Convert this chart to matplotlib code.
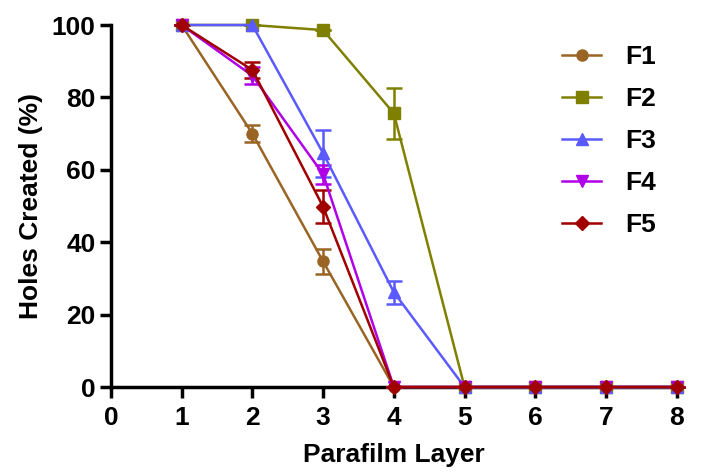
import numpy as np
import matplotlib
matplotlib.use("Agg")
import matplotlib.pyplot as plt
from matplotlib.lines import Line2D

plt.rcParams['font.family'] = ['Liberation Sans', 'DejaVu Sans']
plt.rcParams['font.weight'] = 'bold'

layers = [1, 2, 3, 4, 5, 6, 7, 8]

f1 = [100, 70, 34.7, 0, 0, 0, 0, 0]
f1_err = [0, 2.3, 3.4, 0, 0, 0, 0, 0]
f2 = [100, 100, 98.6, 75.6, 0, 0, 0, 0]
f2_err = [0, 0, 0, 7.0, 0, 0, 0, 0]
f3 = [100, 100, 64.6, 26.2, 0, 0, 0, 0]
f3_err = [0, 0, 6.5, 3.2, 0, 0, 0, 0]
f4 = [100, 86.0, 58.8, 0, 0, 0, 0, 0]
f4_err = [0, 2.4, 2.6, 0, 0, 0, 0, 0]
f5 = [100, 87.6, 49.8, 0, 0, 0, 0, 0]
f5_err = [0, 2.3, 4.5, 0, 0, 0, 0, 0]

series = [
    ("F1", f1, f1_err, "#9a6424", "o", 8),
    ("F2", f2, f2_err, "#808000", "s", 8),
    ("F3", f3, f3_err, "#5a5aff", "^", 9),
    ("F4", f4, f4_err, "#b000e6", "v", 9),
    ("F5", f5, f5_err, "#a00000", "D", 7),
]

fig = plt.figure(figsize=(7.02, 4.72), dpi=100)
ax = fig.add_axes([0.158, 0.180, 0.806, 0.767])

handles = []
for name, vals, err, col, mk, ms in series:
    ax.errorbar(layers, vals, yerr=err, color=col, marker=mk, markersize=ms,
                linewidth=1.8, elinewidth=1.8, capsize=6, capthick=1.8,
                clip_on=False, zorder=3)
    handles.append(Line2D([], [], color=col, marker=mk, markersize=ms,
                          linewidth=1.8, label=name))

ax.set_xlim(0, 8)
ax.set_ylim(0, 100)
ax.set_xticks(range(0, 9))
ax.set_yticks(range(0, 101, 20))

for side in ("top", "right"):
    ax.spines[side].set_visible(False)
for side in ("left", "bottom"):
    ax.spines[side].set_linewidth(2.5)
ax.tick_params(direction="out", length=8, width=2.5, labelsize=19, pad=3)
ax.tick_params(axis="x", pad=6)

ax.set_xlabel("Parafilm Layer", fontsize=19, fontweight="bold", labelpad=9)
ax.set_ylabel("Holes Created (%)", fontsize=19, fontweight="bold", labelpad=6)

ax.legend(handles=handles, loc="upper left", bbox_to_anchor=(0.755, 1.01),
          frameon=False, fontsize=19, handlelength=1.5, labelspacing=0.68,
          handletextpad=0.9)

fig.savefig("out.png", dpi=100)
